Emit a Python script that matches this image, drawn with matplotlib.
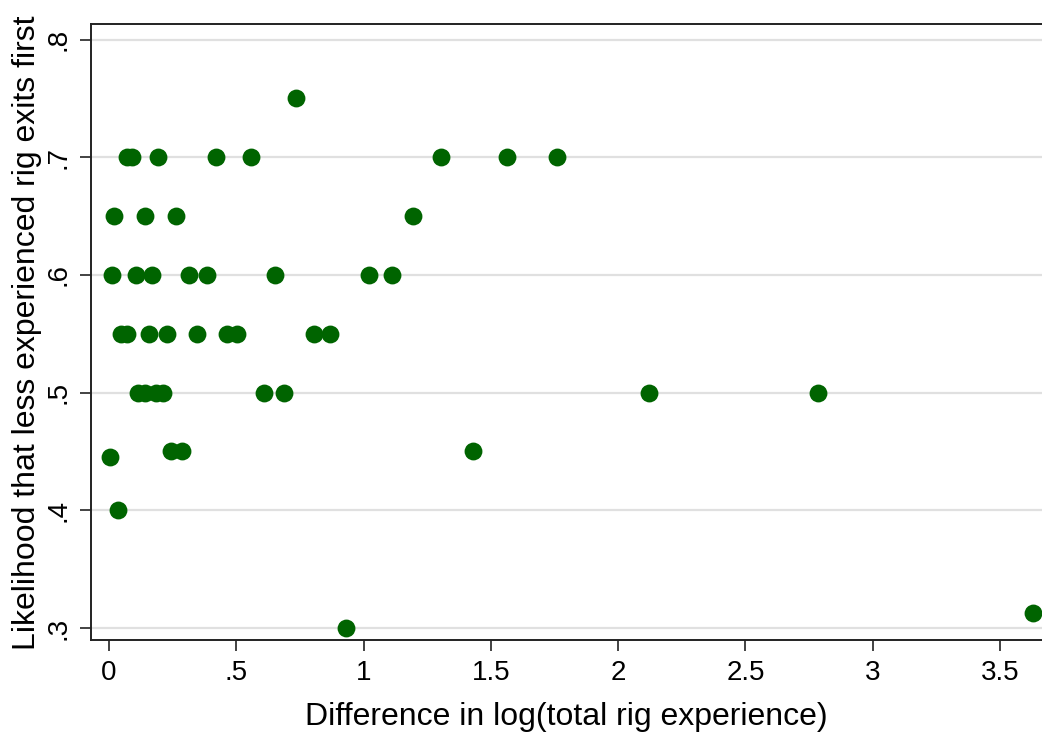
import matplotlib
matplotlib.use('Agg')
import matplotlib.pyplot as plt

# difference in log(total rig experience) vs likelihood
diff_log_exp = [0.072, 0.089, 0.191, 0.419, 0.557, 1.304, 1.562, 1.758,
                0.736,
                0.021, 0.141, 0.262, 1.193,
                0.011, 0.106, 0.168, 0.313, 0.384, 0.652, 1.022, 1.113,
                0.047, 0.069, 0.157, 0.228, 0.344, 0.462, 0.502, 0.806, 0.868,
                0.115, 0.141, 0.185, 0.211, 0.610, 0.686, 2.121, 2.785,
                0.2435, 0.288, 1.43,
                0.005,
                0.037,
                0.931,
                3.628]
likelihood = [0.7] * 8 + [0.75] + [0.65] * 4 + [0.6] * 8 + [0.55] * 9 + \
             [0.5] * 8 + [0.45] * 3 + [0.445] + [0.4] + [0.3] + [0.313]

xticks = [0, 0.5, 1, 1.5, 2, 2.5, 3, 3.5]
xtick_labels = ['0', '.5', '1', '1.5', '2', '2.5', '3', '3.5']
yticks = [0.3, 0.4, 0.5, 0.6, 0.7, 0.8]
ytick_labels = ['.3', '.4', '.5', '.6', '.7', '.8']

plt.rcParams['font.family'] = ['Liberation Sans', 'DejaVu Sans']

fig = plt.figure(figsize=(10.42, 7.36), dpi=100)
ax = fig.add_axes([0.087, 0.130, 0.913, 0.837])

ax.scatter(diff_log_exp, likelihood, s=165, color='#006400', zorder=3, linewidths=0)

ax.set_xlim(-0.072, 3.665)
ax.set_ylim(0.2895, 0.813)

ax.set_xticks(xticks)
ax.set_xticklabels(xtick_labels, fontsize=20)
ax.set_yticks(yticks)
ax.set_yticklabels(ytick_labels, fontsize=20, rotation=90, va='center')

ax.grid(axis='y', color='#e0e0e0', linewidth=1.6, zorder=0)
ax.grid(axis='x', visible=False)
ax.spines['right'].set_visible(False)
for s in ['left', 'top', 'bottom']:
    ax.spines[s].set_linewidth(1.4)
    ax.spines[s].set_color('#222222')
ax.tick_params(axis='both', length=8, width=1.2, color='#222222', pad=6)

ax.set_xlabel('Difference in log(total rig experience)', fontsize=23, labelpad=12)
ax.set_ylabel('Likelihood that less experienced rig exits first', fontsize=23, labelpad=2)

fig.savefig('out.png', dpi=100)
